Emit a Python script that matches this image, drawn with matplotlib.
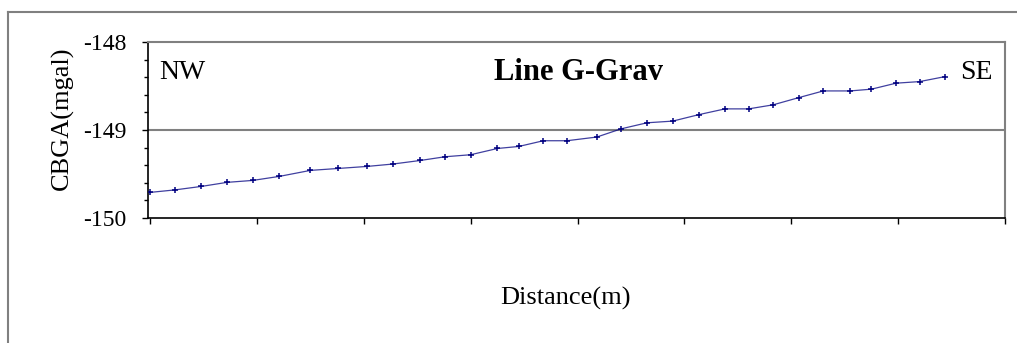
import matplotlib.pyplot as plt
from matplotlib.lines import Line2D
from matplotlib.ticker import MultipleLocator, NullFormatter

plt.rcParams['font.family'] = ['Liberation Serif', 'DejaVu Serif']

# gravity profile along line G (distance in m, CBGA in mgal)
dist = [0, 23, 48, 72, 96, 121, 150, 176, 203, 227, 253, 276, 300, 325, 345, 368,
        390, 418, 441, 465, 489, 514, 538, 560, 583, 607, 630, 655, 675, 698, 720, 744]
cbga = [-149.709, -149.681, -149.641, -149.595, -149.573, -149.527, -149.459, -149.437,
        -149.414, -149.387, -149.346, -149.304, -149.281, -149.210, -149.187, -149.122,
        -149.122, -149.080, -148.986, -148.918, -148.899, -148.824, -148.760, -148.760,
        -148.714, -148.632, -148.556, -148.556, -148.536, -148.468, -148.450, -148.393]
yticks = [-150, -149, -148]

W, H = 1017, 343
fig = plt.figure(figsize=(W / 100, H / 100), dpi=100)
ax = fig.add_axes([148 / W, 1 - 218 / H, 857 / W, 176 / H])

ax.plot(dist, cbga, color='#000080', lw=0.9, alpha=0.75, zorder=3)
ax.plot(dist, cbga, ls='none', marker='+', ms=5, mew=1.1, color='#000080', zorder=4)
ax.axhline(-149, color='#808080', lw=1.5, zorder=1)

ax.set_xlim(-2, 800)
ax.set_ylim(-150, -148)
ax.xaxis.set_major_locator(MultipleLocator(100))
ax.xaxis.set_major_formatter(NullFormatter())
ax.set_yticks(yticks)
ax.set_yticklabels([str(v) for v in yticks], fontsize=17)
ax.yaxis.set_minor_locator(MultipleLocator(0.2))
ax.tick_params(axis='y', which='major', length=4.5, width=1, pad=11)
ax.tick_params(axis='y', which='minor', length=3, width=1)
ax.tick_params(axis='x', which='major', length=4, width=1)

for s in ('top', 'right'):
    ax.spines[s].set_color('#808080')
    ax.spines[s].set_linewidth(1.5)
for s in ('left', 'bottom'):
    ax.spines[s].set_color('black')
    ax.spines[s].set_linewidth(1.2)


def px(x, y):
    return x / W, 1 - y / H


fig.text(*px(159, 79), 'NW', fontsize=20, va='baseline')
fig.text(*px(993, 79), 'SE', fontsize=20, va='baseline', ha='right')
fig.text(*px(579, 80), 'Line G-Grav', fontsize=22, fontweight='bold',
         ha='center', va='baseline')

fig.text(*px(62, 118), 'CBGA(mgal)', rotation=90, fontsize=19,
         ha='center', va='center')
fig.text(*px(565, 298), 'Distance(m)', fontsize=19, ha='center', va='center')

# chart area border
fig.add_artist(Line2D([8 / W, 1], [1 - 12 / H] * 2, color='#808080', lw=1.5,
                      transform=fig.transFigure))
fig.add_artist(Line2D([8 / W] * 2, [0, 1 - 12 / H], color='#808080', lw=1.5,
                      transform=fig.transFigure))

fig.savefig('out.png', dpi=100)
